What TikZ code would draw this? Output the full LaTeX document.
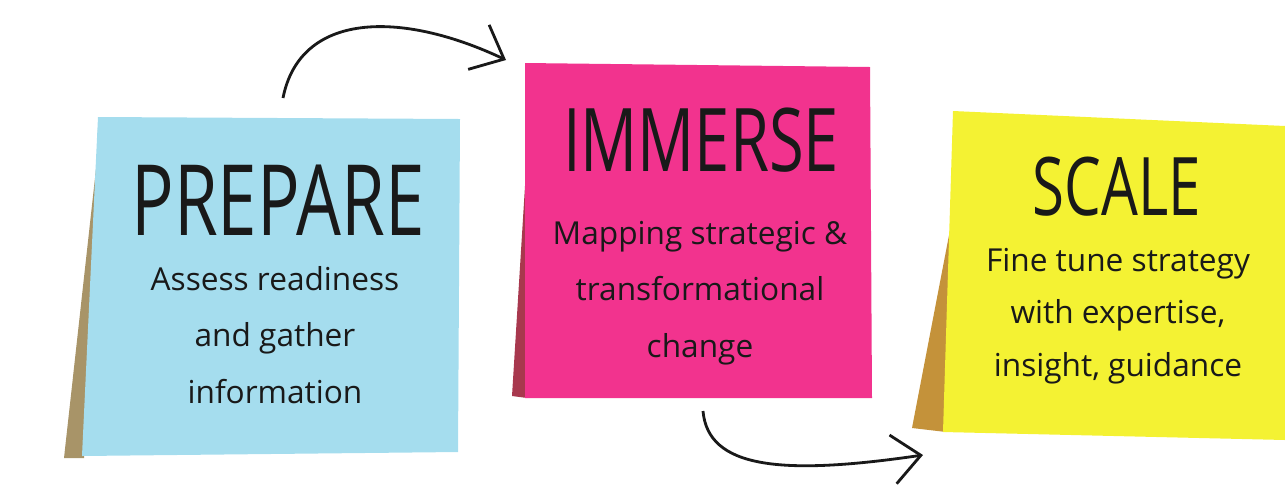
\documentclass[tikz,border=0pt]{standalone}
\usepackage{fontspec}
\setmainfont{Open Sans}
\newfontfamily\headfont[FakeStretch=0.72]{Open Sans}
\usetikzlibrary{arrows.meta}
\definecolor{noteblue}{HTML}{A5DDEE}
\definecolor{notepink}{HTML}{F2338E}
\definecolor{noteyellow}{HTML}{F4F233}
\definecolor{shadeblue}{HTML}{A89468}
\definecolor{shadepink}{HTML}{A8384E}
\definecolor{shadeyellow}{HTML}{C4923A}

\begin{document}
\begin{tikzpicture}[x=0.02cm, y=-0.02cm]
		\tikzstyle{title} = [font=\headfont\fontsize{56}{56}\selectfont, text=black!90]
		\tikzstyle{body} = [align=center, font=\fontsize{18}{32}\selectfont, text=black!90]
		\tikzstyle{pen} = [-{Straight Barb[length=16pt, width=28pt]}, line width=1.6pt, black!90]
		
		\useasboundingbox (0,0) rectangle (1285,495);
		
		% shadows behind the notes
		\fill[shadeblue] (97,160) -- (64,458) -- (84,458) -- (98,130) -- cycle;
		\fill[shadepink] (526,170) -- (512,396) -- (527,398) -- cycle;
		\fill[shadeyellow] (950,230) -- (912,428) -- (946,432) -- (952,200) -- cycle;
		
		% notes
		\fill[noteblue] (98,117) -- (460,119) -- (458,452) -- (82,456) -- cycle;
		\fill[notepink] (525,63) -- (870,67) -- (872,398) -- (525,398) -- cycle;
		\fill[noteyellow] (953,111) -- (1285,126) -- (1285,440) -- (943,432) -- cycle;
		
		\node[title] at (278,200) (prepare) {PREPARE};
		\node[body] at (275,335) (prepbody) {Assess readiness\\and gather\\information};
		
		\node[title, font=\headfont\fontsize{50}{50}\selectfont] at (701,140) (immerse) {IMMERSE};
		\node[body] at (700,293) (immbody) {Mapping strategic \&\\transformational\\change};
		
		\node[title, font=\headfont\fontsize{46}{46}\selectfont] at (1117,187) (scale) {SCALE};
		\node[body, font=\fontsize{18}{30}\selectfont] at (1118,316) (scalebody) {Fine tune strategy\\with expertise,\\insight, guidance};
		
		\coordinate (fromprep) at (283,98);
		\coordinate (toimm) at (506,60);
		\coordinate (fromimm) at (703,411);
		\coordinate (toscale) at (923,455);
		
		\draw[pen] (fromprep) .. controls (300,12) and (400,10) .. (toimm);
		\draw[pen] (fromimm) .. controls (708,468) and (780,476) .. (toscale);
\end{tikzpicture}
\end{document}
